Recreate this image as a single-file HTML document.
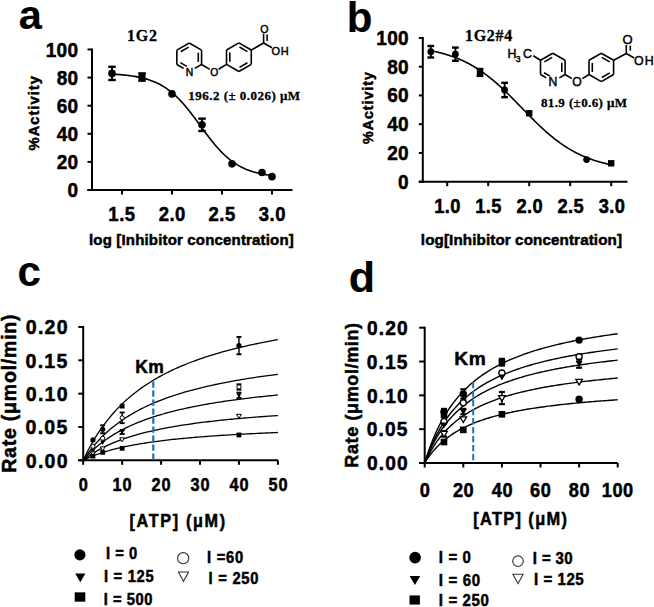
<!DOCTYPE html>
<html><head><meta charset="utf-8"><style>
html,body{margin:0;padding:0;background:#fff;}
svg{display:block;}
</style></head><body>
<svg width="654" height="607" viewBox="0 0 654 607">
<rect width="654" height="607" fill="#fff"/>
<text x="18.65" y="28.90" style="font-family:'Liberation Sans';font-weight:bold;font-size:41.50px;letter-spacing:0.00px" fill="#000" stroke="#000" stroke-width="0.15" >a</text>
<text x="346.85" y="31.90" style="font-family:'Liberation Sans';font-weight:bold;font-size:42.00px;letter-spacing:0.00px" fill="#000" stroke="#000" stroke-width="0.15" >b</text>
<text x="17.60" y="286.40" style="font-family:'Liberation Sans';font-weight:bold;font-size:42.00px;letter-spacing:0.00px" fill="#000" stroke="#000" stroke-width="0.15" >c</text>
<text x="348.65" y="292.40" style="font-family:'Liberation Sans';font-weight:bold;font-size:43.00px;letter-spacing:0.00px" fill="#000" stroke="#000" stroke-width="0.15" >d</text>
<line x1="92.00" y1="48.50" x2="92.00" y2="191.00" stroke="#000" stroke-width="2" />
<line x1="87.50" y1="190.00" x2="292.50" y2="190.00" stroke="#000" stroke-width="2" />
<line x1="87.50" y1="190.00" x2="92.00" y2="190.00" stroke="#000" stroke-width="2" />
<text transform="translate(67.39,197.04) scale(0.935,1)" style="font-family:'Liberation Sans';font-weight:bold;font-size:20.33px;letter-spacing:0.32px" fill="#000" stroke="#000" stroke-width="0.5" >0</text>
<line x1="87.50" y1="161.90" x2="92.00" y2="161.90" stroke="#000" stroke-width="2" />
<text transform="translate(56.64,168.94) scale(0.935,1)" style="font-family:'Liberation Sans';font-weight:bold;font-size:20.33px;letter-spacing:0.32px" fill="#000" stroke="#000" stroke-width="0.5" >20</text>
<line x1="87.50" y1="133.80" x2="92.00" y2="133.80" stroke="#000" stroke-width="2" />
<text transform="translate(56.64,140.84) scale(0.935,1)" style="font-family:'Liberation Sans';font-weight:bold;font-size:20.33px;letter-spacing:0.32px" fill="#000" stroke="#000" stroke-width="0.5" >40</text>
<line x1="87.50" y1="105.70" x2="92.00" y2="105.70" stroke="#000" stroke-width="2" />
<text transform="translate(56.64,112.74) scale(0.935,1)" style="font-family:'Liberation Sans';font-weight:bold;font-size:20.33px;letter-spacing:0.32px" fill="#000" stroke="#000" stroke-width="0.5" >60</text>
<line x1="87.50" y1="77.60" x2="92.00" y2="77.60" stroke="#000" stroke-width="2" />
<text transform="translate(56.64,84.64) scale(0.935,1)" style="font-family:'Liberation Sans';font-weight:bold;font-size:20.33px;letter-spacing:0.32px" fill="#000" stroke="#000" stroke-width="0.5" >80</text>
<line x1="87.50" y1="49.50" x2="92.00" y2="49.50" stroke="#000" stroke-width="2" />
<text transform="translate(45.66,56.54) scale(0.935,1)" style="font-family:'Liberation Sans';font-weight:bold;font-size:20.33px;letter-spacing:0.32px" fill="#000" stroke="#000" stroke-width="0.5" >100</text>
<line x1="122.00" y1="190.00" x2="122.00" y2="194.50" stroke="#000" stroke-width="2" />
<text transform="translate(108.33,221.30) scale(0.935,1)" style="font-family:'Liberation Sans';font-weight:bold;font-size:19.80px;letter-spacing:0.54px" fill="#000" stroke="#000" stroke-width="0.5" >1.5</text>
<line x1="172.00" y1="190.00" x2="172.00" y2="194.50" stroke="#000" stroke-width="2" />
<text transform="translate(158.68,221.30) scale(0.935,1)" style="font-family:'Liberation Sans';font-weight:bold;font-size:19.80px;letter-spacing:0.54px" fill="#000" stroke="#000" stroke-width="0.5" >2.0</text>
<line x1="222.00" y1="190.00" x2="222.00" y2="194.50" stroke="#000" stroke-width="2" />
<text transform="translate(208.57,221.30) scale(0.935,1)" style="font-family:'Liberation Sans';font-weight:bold;font-size:19.80px;letter-spacing:0.54px" fill="#000" stroke="#000" stroke-width="0.5" >2.5</text>
<line x1="272.00" y1="190.00" x2="272.00" y2="194.50" stroke="#000" stroke-width="2" />
<text transform="translate(258.80,221.30) scale(0.935,1)" style="font-family:'Liberation Sans';font-weight:bold;font-size:19.80px;letter-spacing:0.54px" fill="#000" stroke="#000" stroke-width="0.5" >3.0</text>
<text x="89.00" y="245.00" style="font-family:'Liberation Sans';font-weight:bold;font-size:15.00px;letter-spacing:0.17px" fill="#000" stroke="#000" stroke-width="0.5" >log [Inhibitor concentration]</text>
<text transform="translate(39.20,150.45) rotate(-90)" x="0" y="0" style="font-family:'Liberation Sans';font-weight:bold;font-size:14.70px;letter-spacing:1.02px" stroke="#000" stroke-width="0.5">%Activity</text>
<text x="127.05" y="40.50" style="font-family:'Liberation Serif';font-weight:bold;font-size:16.00px;letter-spacing:0.80px" fill="#000" stroke="#000" stroke-width="0.3" >1G2</text>
<text x="188.30" y="100.20" style="font-family:'Liberation Serif';font-weight:bold;font-size:13.00px;letter-spacing:0.48px" fill="#000" stroke="#000" stroke-width="0.3" >196.2 (± 0.026) μM</text>
<path d="M112.00,74.14 L113.33,74.21 L114.67,74.29 L116.00,74.37 L117.33,74.46 L118.67,74.56 L120.00,74.66 L121.33,74.77 L122.67,74.89 L124.00,75.02 L125.33,75.15 L126.67,75.30 L128.00,75.45 L129.33,75.62 L130.67,75.80 L132.00,75.99 L133.33,76.19 L134.67,76.40 L136.00,76.63 L137.33,76.88 L138.67,77.14 L140.00,77.42 L141.33,77.72 L142.67,78.04 L144.00,78.38 L145.33,78.74 L146.67,79.12 L148.00,79.53 L149.33,79.96 L150.67,80.42 L152.00,80.91 L153.33,81.43 L154.67,81.98 L156.00,82.56 L157.33,83.18 L158.67,83.83 L160.00,84.52 L161.33,85.25 L162.67,86.02 L164.00,86.83 L165.33,87.69 L166.67,88.58 L168.00,89.53 L169.33,90.51 L170.67,91.55 L172.00,92.63 L173.33,93.77 L174.67,94.95 L176.00,96.18 L177.33,97.46 L178.67,98.79 L180.00,100.16 L181.33,101.59 L182.67,103.05 L184.00,104.57 L185.33,106.13 L186.67,107.72 L188.00,109.36 L189.33,111.03 L190.67,112.73 L192.00,114.47 L193.33,116.22 L194.67,118.01 L196.00,119.80 L197.33,121.62 L198.67,123.44 L200.00,125.26 L201.33,127.09 L202.67,128.92 L204.00,130.73 L205.33,132.53 L206.67,134.32 L208.00,136.09 L209.33,137.83 L210.67,139.54 L212.00,141.22 L213.33,142.87 L214.67,144.48 L216.00,146.05 L217.33,147.57 L218.67,149.06 L220.00,150.49 L221.33,151.88 L222.67,153.23 L224.00,154.52 L225.33,155.76 L226.67,156.96 L228.00,158.11 L229.33,159.21 L230.67,160.26 L232.00,161.26 L233.33,162.22 L234.67,163.13 L236.00,163.99 L237.33,164.82 L238.67,165.60 L240.00,166.34 L241.33,167.04 L242.67,167.71 L244.00,168.33 L245.33,168.93 L246.67,169.49 L248.00,170.01 L249.33,170.51 L250.67,170.98 L252.00,171.42 L253.33,171.84 L254.67,172.23 L256.00,172.60 L257.33,172.94 L258.67,173.26 L260.00,173.57 L261.33,173.85 L262.67,174.12 L264.00,174.37 L265.33,174.61 L266.67,174.83 L268.00,175.03 L269.33,175.22 L270.67,175.41 L272.00,175.57" stroke="#000" stroke-width="1.6" fill="none" />
<line x1="112.00" y1="66.78" x2="112.00" y2="79.99" stroke="#000" stroke-width="1.92" />
<line x1="108.25" y1="66.78" x2="115.75" y2="66.78" stroke="#000" stroke-width="2.4" />
<line x1="108.25" y1="79.99" x2="115.75" y2="79.99" stroke="#000" stroke-width="2.4" />
<circle cx="112.00" cy="73.38" r="3.80" fill="#000"/>
<line x1="142.00" y1="73.38" x2="142.00" y2="80.69" stroke="#000" stroke-width="1.92" />
<line x1="138.25" y1="73.38" x2="145.75" y2="73.38" stroke="#000" stroke-width="2.4" />
<line x1="138.25" y1="80.69" x2="145.75" y2="80.69" stroke="#000" stroke-width="2.4" />
<rect x="138.50" y="73.54" width="7.00" height="7.00" fill="#000"/>
<circle cx="172.00" cy="93.90" r="3.80" fill="#000"/>
<line x1="202.00" y1="118.63" x2="202.00" y2="130.99" stroke="#000" stroke-width="1.92" />
<line x1="198.25" y1="118.63" x2="205.75" y2="118.63" stroke="#000" stroke-width="2.4" />
<line x1="198.25" y1="130.99" x2="205.75" y2="130.99" stroke="#000" stroke-width="2.4" />
<circle cx="202.00" cy="124.81" r="3.80" fill="#000"/>
<circle cx="232.00" cy="163.87" r="3.80" fill="#000"/>
<circle cx="262.00" cy="172.44" r="3.80" fill="#000"/>
<circle cx="272.00" cy="176.65" r="3.80" fill="#000"/>
<line x1="422.80" y1="36.95" x2="422.80" y2="182.70" stroke="#000" stroke-width="2" />
<line x1="418.80" y1="181.70" x2="627.50" y2="181.70" stroke="#000" stroke-width="2" />
<line x1="418.80" y1="181.70" x2="422.80" y2="181.70" stroke="#000" stroke-width="2" />
<text transform="translate(397.99,188.64) scale(0.935,1)" style="font-family:'Liberation Sans';font-weight:bold;font-size:20.33px;letter-spacing:0.32px" fill="#000" stroke="#000" stroke-width="0.5" >0</text>
<line x1="418.80" y1="152.95" x2="422.80" y2="152.95" stroke="#000" stroke-width="2" />
<text transform="translate(387.24,159.89) scale(0.935,1)" style="font-family:'Liberation Sans';font-weight:bold;font-size:20.33px;letter-spacing:0.32px" fill="#000" stroke="#000" stroke-width="0.5" >20</text>
<line x1="418.80" y1="124.20" x2="422.80" y2="124.20" stroke="#000" stroke-width="2" />
<text transform="translate(387.24,131.14) scale(0.935,1)" style="font-family:'Liberation Sans';font-weight:bold;font-size:20.33px;letter-spacing:0.32px" fill="#000" stroke="#000" stroke-width="0.5" >40</text>
<line x1="418.80" y1="95.45" x2="422.80" y2="95.45" stroke="#000" stroke-width="2" />
<text transform="translate(387.24,102.39) scale(0.935,1)" style="font-family:'Liberation Sans';font-weight:bold;font-size:20.33px;letter-spacing:0.32px" fill="#000" stroke="#000" stroke-width="0.5" >60</text>
<line x1="418.80" y1="66.70" x2="422.80" y2="66.70" stroke="#000" stroke-width="2" />
<text transform="translate(387.24,73.64) scale(0.935,1)" style="font-family:'Liberation Sans';font-weight:bold;font-size:20.33px;letter-spacing:0.32px" fill="#000" stroke="#000" stroke-width="0.5" >80</text>
<line x1="418.80" y1="37.95" x2="422.80" y2="37.95" stroke="#000" stroke-width="2" />
<text transform="translate(376.26,44.89) scale(0.935,1)" style="font-family:'Liberation Sans';font-weight:bold;font-size:20.33px;letter-spacing:0.32px" fill="#000" stroke="#000" stroke-width="0.5" >100</text>
<line x1="447.20" y1="181.70" x2="447.20" y2="186.20" stroke="#000" stroke-width="2" />
<text transform="translate(434.30,213.00) scale(0.935,1)" style="font-family:'Liberation Sans';font-weight:bold;font-size:19.58px;letter-spacing:0.43px" fill="#000" stroke="#000" stroke-width="0.5" >1.0</text>
<line x1="488.20" y1="181.70" x2="488.20" y2="186.20" stroke="#000" stroke-width="2" />
<text transform="translate(475.18,213.00) scale(0.935,1)" style="font-family:'Liberation Sans';font-weight:bold;font-size:19.58px;letter-spacing:0.43px" fill="#000" stroke="#000" stroke-width="0.5" >1.5</text>
<line x1="529.20" y1="181.70" x2="529.20" y2="186.20" stroke="#000" stroke-width="2" />
<text transform="translate(516.53,213.00) scale(0.935,1)" style="font-family:'Liberation Sans';font-weight:bold;font-size:19.58px;letter-spacing:0.43px" fill="#000" stroke="#000" stroke-width="0.5" >2.0</text>
<line x1="570.20" y1="181.70" x2="570.20" y2="186.20" stroke="#000" stroke-width="2" />
<text transform="translate(557.42,213.00) scale(0.935,1)" style="font-family:'Liberation Sans';font-weight:bold;font-size:19.58px;letter-spacing:0.43px" fill="#000" stroke="#000" stroke-width="0.5" >2.5</text>
<line x1="611.20" y1="181.70" x2="611.20" y2="186.20" stroke="#000" stroke-width="2" />
<text transform="translate(598.65,213.00) scale(0.935,1)" style="font-family:'Liberation Sans';font-weight:bold;font-size:19.58px;letter-spacing:0.43px" fill="#000" stroke="#000" stroke-width="0.5" >3.0</text>
<text x="420.80" y="245.40" style="font-family:'Liberation Sans';font-weight:bold;font-size:15.20px;letter-spacing:0.11px" fill="#000" stroke="#000" stroke-width="0.5" >log[Inhibitor concentration]</text>
<text transform="translate(373.10,143.95) rotate(-90)" x="0" y="0" style="font-family:'Liberation Sans';font-weight:bold;font-size:14.30px;letter-spacing:0.94px" stroke="#000" stroke-width="0.5">%Activity</text>
<text x="464.95" y="40.70" style="font-family:'Liberation Serif';font-weight:bold;font-size:16.00px;letter-spacing:0.73px" fill="#000" stroke="#000" stroke-width="0.3" >1G2#4</text>
<text x="540.90" y="106.70" style="font-family:'Liberation Serif';font-weight:bold;font-size:13.00px;letter-spacing:0.40px" fill="#000" stroke="#000" stroke-width="0.3" >81.9 (±0.6) μM</text>
<path d="M430.80,50.72 L432.09,50.98 L433.38,51.24 L434.67,51.51 L435.95,51.80 L437.24,52.09 L438.53,52.40 L439.82,52.71 L441.11,53.04 L442.40,53.38 L443.69,53.74 L444.97,54.10 L446.26,54.48 L447.55,54.87 L448.84,55.28 L450.13,55.70 L451.42,56.14 L452.71,56.59 L453.99,57.06 L455.28,57.54 L456.57,58.04 L457.86,58.55 L459.15,59.09 L460.44,59.64 L461.73,60.21 L463.01,60.79 L464.30,61.40 L465.59,62.02 L466.88,62.67 L468.17,63.33 L469.46,64.01 L470.75,64.71 L472.03,65.44 L473.32,66.18 L474.61,66.94 L475.90,67.73 L477.19,68.54 L478.48,69.36 L479.77,70.21 L481.05,71.08 L482.34,71.98 L483.63,72.89 L484.92,73.82 L486.21,74.78 L487.50,75.76 L488.79,76.76 L490.07,77.78 L491.36,78.82 L492.65,79.88 L493.94,80.96 L495.23,82.05 L496.52,83.17 L497.81,84.31 L499.09,85.46 L500.38,86.64 L501.67,87.82 L502.96,89.03 L504.25,90.25 L505.54,91.48 L506.83,92.73 L508.11,93.99 L509.40,95.26 L510.69,96.54 L511.98,97.83 L513.27,99.13 L514.56,100.44 L515.85,101.75 L517.13,103.07 L518.42,104.40 L519.71,105.72 L521.00,107.05 L522.29,108.38 L523.58,109.71 L524.87,111.04 L526.15,112.36 L527.44,113.68 L528.73,115.00 L530.02,116.31 L531.31,117.61 L532.60,118.91 L533.89,120.19 L535.17,121.46 L536.46,122.73 L537.75,123.98 L539.04,125.22 L540.33,126.44 L541.62,127.65 L542.91,128.84 L544.19,130.02 L545.48,131.18 L546.77,132.32 L548.06,133.44 L549.35,134.54 L550.64,135.63 L551.93,136.69 L553.21,137.74 L554.50,138.76 L555.79,139.77 L557.08,140.75 L558.37,141.71 L559.66,142.65 L560.95,143.57 L562.23,144.47 L563.52,145.35 L564.81,146.20 L566.10,147.04 L567.39,147.85 L568.68,148.64 L569.97,149.41 L571.25,150.16 L572.54,150.89 L573.83,151.60 L575.12,152.29 L576.41,152.95 L577.70,153.60 L578.99,154.23 L580.27,154.84 L581.56,155.43 L582.85,156.01 L584.14,156.56 L585.43,157.10 L586.72,157.62 L588.01,158.12 L589.29,158.61 L590.58,159.08 L591.87,159.54 L593.16,159.98 L594.45,160.40 L595.74,160.81 L597.03,161.21 L598.31,161.59 L599.60,161.96 L600.89,162.32 L602.18,162.66 L603.47,162.99 L604.76,163.31 L606.05,163.62 L607.33,163.92 L608.62,164.21 L609.91,164.48 L611.20,164.75" stroke="#000" stroke-width="1.6" fill="none" />
<line x1="430.80" y1="46.00" x2="430.80" y2="57.50" stroke="#000" stroke-width="1.92" />
<line x1="427.45" y1="46.00" x2="434.15" y2="46.00" stroke="#000" stroke-width="2.4" />
<line x1="427.45" y1="57.50" x2="434.15" y2="57.50" stroke="#000" stroke-width="2.4" />
<circle cx="430.80" cy="51.75" r="3.40" fill="#000"/>
<line x1="455.40" y1="47.58" x2="455.40" y2="60.81" stroke="#000" stroke-width="1.92" />
<line x1="452.05" y1="47.58" x2="458.75" y2="47.58" stroke="#000" stroke-width="2.4" />
<line x1="452.05" y1="60.81" x2="458.75" y2="60.81" stroke="#000" stroke-width="2.4" />
<circle cx="455.40" cy="54.19" r="3.40" fill="#000"/>
<line x1="480.00" y1="69.00" x2="480.00" y2="75.90" stroke="#000" stroke-width="1.92" />
<line x1="476.65" y1="69.00" x2="483.35" y2="69.00" stroke="#000" stroke-width="2.4" />
<line x1="476.65" y1="75.90" x2="483.35" y2="75.90" stroke="#000" stroke-width="2.4" />
<rect x="476.80" y="69.25" width="6.40" height="6.40" fill="#000"/>
<line x1="504.60" y1="82.80" x2="504.60" y2="97.17" stroke="#000" stroke-width="1.92" />
<line x1="501.25" y1="82.80" x2="507.95" y2="82.80" stroke="#000" stroke-width="2.4" />
<line x1="501.25" y1="97.17" x2="507.95" y2="97.17" stroke="#000" stroke-width="2.4" />
<circle cx="504.60" cy="89.99" r="3.40" fill="#000"/>
<rect x="526.00" y="110.07" width="6.40" height="6.40" fill="#000"/>
<circle cx="586.60" cy="159.56" r="3.40" fill="#000"/>
<rect x="608.00" y="160.10" width="6.40" height="6.40" fill="#000"/>
<line x1="83.20" y1="325.96" x2="83.20" y2="461.30" stroke="#000" stroke-width="2" />
<line x1="78.30" y1="460.30" x2="278.00" y2="460.30" stroke="#000" stroke-width="2" />
<line x1="78.30" y1="460.30" x2="83.20" y2="460.30" stroke="#000" stroke-width="2" />
<text transform="translate(25.81,467.74) scale(0.935,1)" style="font-family:'Liberation Sans';font-weight:bold;font-size:20.97px;letter-spacing:1.28px" fill="#000" stroke="#000" stroke-width="0.5" >0.00</text>
<line x1="78.30" y1="426.97" x2="83.20" y2="426.97" stroke="#000" stroke-width="2" />
<text transform="translate(25.58,434.41) scale(0.935,1)" style="font-family:'Liberation Sans';font-weight:bold;font-size:20.97px;letter-spacing:1.28px" fill="#000" stroke="#000" stroke-width="0.5" >0.05</text>
<line x1="78.30" y1="393.63" x2="83.20" y2="393.63" stroke="#000" stroke-width="2" />
<text transform="translate(25.81,401.07) scale(0.935,1)" style="font-family:'Liberation Sans';font-weight:bold;font-size:20.97px;letter-spacing:1.28px" fill="#000" stroke="#000" stroke-width="0.5" >0.10</text>
<line x1="78.30" y1="360.30" x2="83.20" y2="360.30" stroke="#000" stroke-width="2" />
<text transform="translate(25.58,367.74) scale(0.935,1)" style="font-family:'Liberation Sans';font-weight:bold;font-size:20.97px;letter-spacing:1.28px" fill="#000" stroke="#000" stroke-width="0.5" >0.15</text>
<line x1="78.30" y1="326.96" x2="83.20" y2="326.96" stroke="#000" stroke-width="2" />
<text transform="translate(25.81,334.40) scale(0.935,1)" style="font-family:'Liberation Sans';font-weight:bold;font-size:20.97px;letter-spacing:1.28px" fill="#000" stroke="#000" stroke-width="0.5" >0.20</text>
<line x1="83.20" y1="460.30" x2="83.20" y2="464.80" stroke="#000" stroke-width="2" />
<text transform="translate(78.64,490.60) scale(0.935,1)" style="font-family:'Liberation Sans';font-weight:bold;font-size:17.44px;letter-spacing:0.96px" fill="#000" stroke="#000" stroke-width="0.5" >0</text>
<line x1="122.14" y1="460.30" x2="122.14" y2="464.80" stroke="#000" stroke-width="2" />
<text transform="translate(112.44,490.60) scale(0.935,1)" style="font-family:'Liberation Sans';font-weight:bold;font-size:17.44px;letter-spacing:0.96px" fill="#000" stroke="#000" stroke-width="0.5" >10</text>
<line x1="161.08" y1="460.30" x2="161.08" y2="464.80" stroke="#000" stroke-width="2" />
<text transform="translate(151.62,490.60) scale(0.935,1)" style="font-family:'Liberation Sans';font-weight:bold;font-size:17.44px;letter-spacing:0.96px" fill="#000" stroke="#000" stroke-width="0.5" >20</text>
<line x1="200.02" y1="460.30" x2="200.02" y2="464.80" stroke="#000" stroke-width="2" />
<text transform="translate(190.56,490.60) scale(0.935,1)" style="font-family:'Liberation Sans';font-weight:bold;font-size:17.44px;letter-spacing:0.96px" fill="#000" stroke="#000" stroke-width="0.5" >30</text>
<line x1="238.96" y1="460.30" x2="238.96" y2="464.80" stroke="#000" stroke-width="2" />
<text transform="translate(229.61,490.60) scale(0.935,1)" style="font-family:'Liberation Sans';font-weight:bold;font-size:17.44px;letter-spacing:0.96px" fill="#000" stroke="#000" stroke-width="0.5" >40</text>
<line x1="277.90" y1="460.30" x2="277.90" y2="464.80" stroke="#000" stroke-width="2" />
<text transform="translate(268.44,490.60) scale(0.935,1)" style="font-family:'Liberation Sans';font-weight:bold;font-size:17.44px;letter-spacing:0.96px" fill="#000" stroke="#000" stroke-width="0.5" >50</text>
<text transform="translate(129.57,527.10) scale(0.926,1)" style="font-family:'Liberation Sans';font-weight:bold;font-size:17.50px;letter-spacing:1.79px" fill="#000" stroke="#000" stroke-width="0.5" >[ATP] (μM)</text>
<text transform="translate(15.80,472.75) rotate(-90)" x="0" y="0" style="font-family:'Liberation Sans';font-weight:bold;font-size:19.50px;letter-spacing:0.78px" stroke="#000" stroke-width="0.5">Rate (μmol/min)</text>
<path d="M83.20,460.30 L85.15,456.18 L87.09,452.26 L89.04,448.51 L90.99,444.94 L92.94,441.53 L94.88,438.26 L96.83,435.14 L98.78,432.14 L100.72,429.27 L102.67,426.51 L104.62,423.86 L106.56,421.31 L108.51,418.86 L110.46,416.50 L112.41,414.22 L114.35,412.03 L116.30,409.91 L118.25,407.87 L120.19,405.90 L122.14,403.99 L124.09,402.14 L126.03,400.35 L127.98,398.62 L129.93,396.95 L131.88,395.32 L133.82,393.75 L135.77,392.22 L137.72,390.74 L139.66,389.30 L141.61,387.90 L143.56,386.54 L145.50,385.21 L147.45,383.93 L149.40,382.68 L151.34,381.46 L153.29,380.27 L155.24,379.12 L157.19,378.00 L159.13,376.90 L161.08,375.83 L163.03,374.79 L164.97,373.77 L166.92,372.78 L168.87,371.81 L170.81,370.86 L172.76,369.94 L174.71,369.03 L176.66,368.15 L178.60,367.29 L180.55,366.44 L182.50,365.62 L184.44,364.81 L186.39,364.02 L188.34,363.25 L190.29,362.49 L192.23,361.75 L194.18,361.02 L196.13,360.31 L198.07,359.62 L200.02,358.93 L201.97,358.27 L203.91,357.61 L205.86,356.97 L207.81,356.34 L209.75,355.72 L211.70,355.11 L213.65,354.51 L215.60,353.93 L217.54,353.36 L219.49,352.79 L221.44,352.24 L223.38,351.69 L225.33,351.16 L227.28,350.64 L229.23,350.12 L231.17,349.61 L233.12,349.12 L235.07,348.63 L237.01,348.15 L238.96,347.67 L240.91,347.21 L242.85,346.75 L244.80,346.30 L246.75,345.86 L248.69,345.42 L250.64,344.99 L252.59,344.57 L254.54,344.15 L256.48,343.74 L258.43,343.34 L260.38,342.94 L262.32,342.55 L264.27,342.17 L266.22,341.79 L268.17,341.42 L270.11,341.05 L272.06,340.68 L274.01,340.33 L275.95,339.97 L277.90,339.63" stroke="#000" stroke-width="1.3" fill="none" />
<path d="M83.20,460.30 L85.15,457.36 L87.09,454.57 L89.04,451.90 L90.99,449.35 L92.94,446.92 L94.88,444.59 L96.83,442.37 L98.78,440.23 L100.72,438.18 L102.67,436.22 L104.62,434.33 L106.56,432.51 L108.51,430.77 L110.46,429.08 L112.41,427.46 L114.35,425.90 L116.30,424.39 L118.25,422.93 L120.19,421.53 L122.14,420.16 L124.09,418.85 L126.03,417.58 L127.98,416.34 L129.93,415.15 L131.88,413.99 L133.82,412.87 L135.77,411.78 L137.72,410.72 L139.66,409.69 L141.61,408.70 L143.56,407.73 L145.50,406.79 L147.45,405.87 L149.40,404.98 L151.34,404.11 L153.29,403.27 L155.24,402.44 L157.19,401.64 L159.13,400.86 L161.08,400.10 L163.03,399.35 L164.97,398.63 L166.92,397.92 L168.87,397.23 L170.81,396.56 L172.76,395.90 L174.71,395.25 L176.66,394.62 L178.60,394.01 L180.55,393.41 L182.50,392.82 L184.44,392.24 L186.39,391.68 L188.34,391.13 L190.29,390.59 L192.23,390.06 L194.18,389.55 L196.13,389.04 L198.07,388.54 L200.02,388.06 L201.97,387.58 L203.91,387.11 L205.86,386.65 L207.81,386.20 L209.75,385.76 L211.70,385.33 L213.65,384.91 L215.60,384.49 L217.54,384.08 L219.49,383.68 L221.44,383.28 L223.38,382.90 L225.33,382.52 L227.28,382.14 L229.23,381.77 L231.17,381.41 L233.12,381.06 L235.07,380.71 L237.01,380.37 L238.96,380.03 L240.91,379.70 L242.85,379.37 L244.80,379.05 L246.75,378.73 L248.69,378.42 L250.64,378.12 L252.59,377.82 L254.54,377.52 L256.48,377.23 L258.43,376.94 L260.38,376.66 L262.32,376.38 L264.27,376.11 L266.22,375.84 L268.17,375.57 L270.11,375.31 L272.06,375.05 L274.01,374.79 L275.95,374.54 L277.90,374.30" stroke="#000" stroke-width="1.3" fill="none" />
<path d="M83.20,460.30 L85.15,458.07 L87.09,455.94 L89.04,453.92 L90.99,451.98 L92.94,450.14 L94.88,448.37 L96.83,446.68 L98.78,445.05 L100.72,443.50 L102.67,442.01 L104.62,440.57 L106.56,439.19 L108.51,437.86 L110.46,436.59 L112.41,435.35 L114.35,434.17 L116.30,433.02 L118.25,431.91 L120.19,430.84 L122.14,429.81 L124.09,428.81 L126.03,427.84 L127.98,426.91 L129.93,426.00 L131.88,425.12 L133.82,424.27 L135.77,423.44 L137.72,422.64 L139.66,421.86 L141.61,421.10 L143.56,420.36 L145.50,419.65 L147.45,418.95 L149.40,418.27 L151.34,417.61 L153.29,416.97 L155.24,416.35 L157.19,415.74 L159.13,415.14 L161.08,414.56 L163.03,414.00 L164.97,413.45 L166.92,412.91 L168.87,412.39 L170.81,411.87 L172.76,411.37 L174.71,410.88 L176.66,410.41 L178.60,409.94 L180.55,409.48 L182.50,409.04 L184.44,408.60 L186.39,408.17 L188.34,407.75 L190.29,407.34 L192.23,406.94 L194.18,406.55 L196.13,406.16 L198.07,405.79 L200.02,405.42 L201.97,405.05 L203.91,404.70 L205.86,404.35 L207.81,404.01 L209.75,403.67 L211.70,403.35 L213.65,403.02 L215.60,402.71 L217.54,402.40 L219.49,402.09 L221.44,401.79 L223.38,401.50 L225.33,401.21 L227.28,400.92 L229.23,400.64 L231.17,400.37 L233.12,400.10 L235.07,399.84 L237.01,399.58 L238.96,399.32 L240.91,399.07 L242.85,398.82 L244.80,398.58 L246.75,398.34 L248.69,398.10 L250.64,397.87 L252.59,397.64 L254.54,397.41 L256.48,397.19 L258.43,396.97 L260.38,396.76 L262.32,396.55 L264.27,396.34 L266.22,396.13 L268.17,395.93 L270.11,395.73 L272.06,395.54 L274.01,395.34 L275.95,395.15 L277.90,394.96" stroke="#000" stroke-width="1.3" fill="none" />
<path d="M83.20,460.30 L85.15,458.77 L87.09,457.32 L89.04,455.93 L90.99,454.60 L92.94,453.34 L94.88,452.13 L96.83,450.97 L98.78,449.86 L100.72,448.79 L102.67,447.77 L104.62,446.78 L106.56,445.84 L108.51,444.93 L110.46,444.05 L112.41,443.21 L114.35,442.39 L116.30,441.61 L118.25,440.85 L120.19,440.12 L122.14,439.41 L124.09,438.73 L126.03,438.06 L127.98,437.42 L129.93,436.80 L131.88,436.20 L133.82,435.61 L135.77,435.05 L137.72,434.49 L139.66,433.96 L141.61,433.44 L143.56,432.94 L145.50,432.45 L147.45,431.97 L149.40,431.51 L151.34,431.05 L153.29,430.61 L155.24,430.19 L157.19,429.77 L159.13,429.36 L161.08,428.97 L163.03,428.58 L164.97,428.20 L166.92,427.83 L168.87,427.47 L170.81,427.12 L172.76,426.78 L174.71,426.44 L176.66,426.12 L178.60,425.80 L180.55,425.48 L182.50,425.18 L184.44,424.88 L186.39,424.58 L188.34,424.30 L190.29,424.02 L192.23,423.74 L194.18,423.47 L196.13,423.21 L198.07,422.95 L200.02,422.70 L201.97,422.45 L203.91,422.21 L205.86,421.97 L207.81,421.73 L209.75,421.50 L211.70,421.28 L213.65,421.06 L215.60,420.84 L217.54,420.63 L219.49,420.42 L221.44,420.21 L223.38,420.01 L225.33,419.81 L227.28,419.62 L229.23,419.43 L231.17,419.24 L233.12,419.06 L235.07,418.87 L237.01,418.70 L238.96,418.52 L240.91,418.35 L242.85,418.18 L244.80,418.01 L246.75,417.85 L248.69,417.68 L250.64,417.53 L252.59,417.37 L254.54,417.21 L256.48,417.06 L258.43,416.91 L260.38,416.77 L262.32,416.62 L264.27,416.48 L266.22,416.34 L268.17,416.20 L270.11,416.06 L272.06,415.93 L274.01,415.80 L275.95,415.66 L277.90,415.54" stroke="#000" stroke-width="1.3" fill="none" />
<path d="M83.20,460.30 L85.15,459.35 L87.09,458.45 L89.04,457.58 L90.99,456.76 L92.94,455.97 L94.88,455.22 L96.83,454.50 L98.78,453.81 L100.72,453.15 L102.67,452.51 L104.62,451.90 L106.56,451.31 L108.51,450.75 L110.46,450.21 L112.41,449.68 L114.35,449.18 L116.30,448.69 L118.25,448.22 L120.19,447.76 L122.14,447.32 L124.09,446.90 L126.03,446.48 L127.98,446.09 L129.93,445.70 L131.88,445.32 L133.82,444.96 L135.77,444.61 L137.72,444.27 L139.66,443.94 L141.61,443.61 L143.56,443.30 L145.50,443.00 L147.45,442.70 L149.40,442.41 L151.34,442.13 L153.29,441.86 L155.24,441.59 L157.19,441.33 L159.13,441.08 L161.08,440.83 L163.03,440.59 L164.97,440.36 L166.92,440.13 L168.87,439.91 L170.81,439.69 L172.76,439.47 L174.71,439.27 L176.66,439.06 L178.60,438.86 L180.55,438.67 L182.50,438.48 L184.44,438.29 L186.39,438.11 L188.34,437.93 L190.29,437.76 L192.23,437.59 L194.18,437.42 L196.13,437.26 L198.07,437.10 L200.02,436.94 L201.97,436.78 L203.91,436.63 L205.86,436.49 L207.81,436.34 L209.75,436.20 L211.70,436.06 L213.65,435.92 L215.60,435.79 L217.54,435.65 L219.49,435.52 L221.44,435.40 L223.38,435.27 L225.33,435.15 L227.28,435.03 L229.23,434.91 L231.17,434.79 L233.12,434.68 L235.07,434.56 L237.01,434.45 L238.96,434.34 L240.91,434.24 L242.85,434.13 L244.80,434.03 L246.75,433.92 L248.69,433.82 L250.64,433.73 L252.59,433.63 L254.54,433.53 L256.48,433.44 L258.43,433.34 L260.38,433.25 L262.32,433.16 L264.27,433.07 L266.22,432.99 L268.17,432.90 L270.11,432.82 L272.06,432.73 L274.01,432.65 L275.95,432.57 L277.90,432.49" stroke="#000" stroke-width="1.3" fill="none" />
<line x1="153.30" y1="381.50" x2="153.30" y2="460.00" stroke="#1f72b8" stroke-width="2.2" stroke-dasharray="6.3 2.7"/>
<text x="135.15" y="372.60" style="font-family:'Liberation Sans';font-weight:bold;font-size:17.50px;letter-spacing:0.50px" fill="#000" stroke="#000" stroke-width="0.5" >Km</text>
<circle cx="92.94" cy="439.97" r="2.60" fill="#000"/>
<circle cx="92.94" cy="446.30" r="2.10" fill="#fff" stroke="#000" stroke-width="1.0"/>
<path d="M90.42,448.65 L95.45,448.65 L92.94,452.97 Z" fill="#000"/>
<path d="M90.53,451.83 L95.34,451.83 L92.94,455.91 Z" fill="#fff" stroke="#000" stroke-width="1.0" stroke-linejoin="miter"/>
<rect x="90.53" y="453.70" width="4.80" height="4.80" fill="#000"/>
<line x1="102.67" y1="425.30" x2="102.67" y2="433.30" stroke="#000" stroke-width="1.44" />
<line x1="100.17" y1="425.30" x2="105.17" y2="425.30" stroke="#000" stroke-width="1.92" />
<line x1="100.17" y1="433.30" x2="105.17" y2="433.30" stroke="#000" stroke-width="1.92" />
<circle cx="102.67" cy="429.30" r="2.60" fill="#000"/>
<circle cx="102.67" cy="438.30" r="2.10" fill="#fff" stroke="#000" stroke-width="1.0"/>
<path d="M100.15,440.58 L105.19,440.58 L102.67,444.90 Z" fill="#000"/>
<path d="M100.27,446.90 L105.07,446.90 L102.67,450.98 Z" fill="#fff" stroke="#000" stroke-width="1.0" stroke-linejoin="miter"/>
<rect x="100.27" y="449.97" width="4.80" height="4.80" fill="#000"/>
<rect x="119.74" y="403.70" width="4.80" height="4.80" fill="#000"/>
<line x1="122.14" y1="412.50" x2="122.14" y2="423.16" stroke="#000" stroke-width="1.44" />
<line x1="119.64" y1="412.50" x2="124.64" y2="412.50" stroke="#000" stroke-width="1.92" />
<line x1="119.64" y1="423.16" x2="124.64" y2="423.16" stroke="#000" stroke-width="1.92" />
<circle cx="122.14" cy="417.83" r="2.10" fill="#fff" stroke="#000" stroke-width="1.0"/>
<line x1="122.14" y1="429.97" x2="122.14" y2="433.97" stroke="#000" stroke-width="1.44" />
<line x1="119.64" y1="429.97" x2="124.64" y2="429.97" stroke="#000" stroke-width="1.92" />
<line x1="119.64" y1="433.97" x2="124.64" y2="433.97" stroke="#000" stroke-width="1.92" />
<path d="M119.62,430.05 L124.66,430.05 L122.14,434.37 Z" fill="#000"/>
<path d="M119.74,437.83 L124.54,437.83 L122.14,441.91 Z" fill="#fff" stroke="#000" stroke-width="1.0" stroke-linejoin="miter"/>
<rect x="119.74" y="445.90" width="4.80" height="4.80" fill="#000"/>
<line x1="238.96" y1="336.96" x2="238.96" y2="354.29" stroke="#000" stroke-width="1.44" />
<line x1="236.46" y1="336.96" x2="241.46" y2="336.96" stroke="#000" stroke-width="1.92" />
<line x1="236.46" y1="354.29" x2="241.46" y2="354.29" stroke="#000" stroke-width="1.92" />
<circle cx="238.96" cy="345.63" r="2.60" fill="#000"/>
<line x1="238.96" y1="384.30" x2="238.96" y2="389.63" stroke="#000" stroke-width="1.44" />
<line x1="236.46" y1="384.30" x2="241.46" y2="384.30" stroke="#000" stroke-width="1.92" />
<line x1="236.46" y1="389.63" x2="241.46" y2="389.63" stroke="#000" stroke-width="1.92" />
<circle cx="238.96" cy="386.96" r="2.10" fill="#fff" stroke="#000" stroke-width="1.0"/>
<line x1="238.96" y1="392.63" x2="238.96" y2="397.96" stroke="#000" stroke-width="1.44" />
<line x1="236.46" y1="392.63" x2="241.46" y2="392.63" stroke="#000" stroke-width="1.92" />
<line x1="236.46" y1="397.96" x2="241.46" y2="397.96" stroke="#000" stroke-width="1.92" />
<path d="M236.44,393.38 L241.48,393.38 L238.96,397.70 Z" fill="#000"/>
<path d="M236.56,414.30 L241.36,414.30 L238.96,418.38 Z" fill="#fff" stroke="#000" stroke-width="1.0" stroke-linejoin="miter"/>
<rect x="236.56" y="432.57" width="4.80" height="4.80" fill="#000"/>
<line x1="424.70" y1="326.70" x2="424.70" y2="464.00" stroke="#000" stroke-width="2" />
<line x1="419.20" y1="463.00" x2="617.70" y2="463.00" stroke="#000" stroke-width="2" />
<line x1="419.20" y1="463.00" x2="424.70" y2="463.00" stroke="#000" stroke-width="2" />
<text transform="translate(366.98,470.20) scale(0.935,1)" style="font-family:'Liberation Sans';font-weight:bold;font-size:20.54px;letter-spacing:1.18px" fill="#000" stroke="#000" stroke-width="0.5" >0.00</text>
<line x1="419.20" y1="429.18" x2="424.70" y2="429.18" stroke="#000" stroke-width="2" />
<text transform="translate(366.75,436.38) scale(0.935,1)" style="font-family:'Liberation Sans';font-weight:bold;font-size:20.54px;letter-spacing:1.18px" fill="#000" stroke="#000" stroke-width="0.5" >0.05</text>
<line x1="419.20" y1="395.35" x2="424.70" y2="395.35" stroke="#000" stroke-width="2" />
<text transform="translate(366.98,402.55) scale(0.935,1)" style="font-family:'Liberation Sans';font-weight:bold;font-size:20.54px;letter-spacing:1.18px" fill="#000" stroke="#000" stroke-width="0.5" >0.10</text>
<line x1="419.20" y1="361.52" x2="424.70" y2="361.52" stroke="#000" stroke-width="2" />
<text transform="translate(366.75,368.73) scale(0.935,1)" style="font-family:'Liberation Sans';font-weight:bold;font-size:20.54px;letter-spacing:1.18px" fill="#000" stroke="#000" stroke-width="0.5" >0.15</text>
<line x1="419.20" y1="327.70" x2="424.70" y2="327.70" stroke="#000" stroke-width="2" />
<text transform="translate(366.98,334.90) scale(0.935,1)" style="font-family:'Liberation Sans';font-weight:bold;font-size:20.54px;letter-spacing:1.18px" fill="#000" stroke="#000" stroke-width="0.5" >0.20</text>
<line x1="424.70" y1="463.00" x2="424.70" y2="467.50" stroke="#000" stroke-width="2" />
<text transform="translate(419.68,496.70) scale(0.935,1)" style="font-family:'Liberation Sans';font-weight:bold;font-size:19.47px;letter-spacing:0.64px" fill="#000" stroke="#000" stroke-width="0.5" >0</text>
<line x1="463.30" y1="463.00" x2="463.30" y2="467.50" stroke="#000" stroke-width="2" />
<text transform="translate(452.90,496.70) scale(0.935,1)" style="font-family:'Liberation Sans';font-weight:bold;font-size:19.47px;letter-spacing:0.64px" fill="#000" stroke="#000" stroke-width="0.5" >20</text>
<line x1="501.90" y1="463.00" x2="501.90" y2="467.50" stroke="#000" stroke-width="2" />
<text transform="translate(491.74,496.70) scale(0.935,1)" style="font-family:'Liberation Sans';font-weight:bold;font-size:19.47px;letter-spacing:0.64px" fill="#000" stroke="#000" stroke-width="0.5" >40</text>
<line x1="540.50" y1="463.00" x2="540.50" y2="467.50" stroke="#000" stroke-width="2" />
<text transform="translate(530.10,496.70) scale(0.935,1)" style="font-family:'Liberation Sans';font-weight:bold;font-size:19.47px;letter-spacing:0.64px" fill="#000" stroke="#000" stroke-width="0.5" >60</text>
<line x1="579.10" y1="463.00" x2="579.10" y2="467.50" stroke="#000" stroke-width="2" />
<text transform="translate(568.82,496.70) scale(0.935,1)" style="font-family:'Liberation Sans';font-weight:bold;font-size:19.47px;letter-spacing:0.64px" fill="#000" stroke="#000" stroke-width="0.5" >80</text>
<line x1="617.70" y1="463.00" x2="617.70" y2="467.50" stroke="#000" stroke-width="2" />
<text transform="translate(601.70,496.70) scale(0.935,1)" style="font-family:'Liberation Sans';font-weight:bold;font-size:19.47px;letter-spacing:0.64px" fill="#000" stroke="#000" stroke-width="0.5" >100</text>
<text transform="translate(473.17,524.80) scale(0.926,1)" style="font-family:'Liberation Sans';font-weight:bold;font-size:17.71px;letter-spacing:1.47px" fill="#000" stroke="#000" stroke-width="0.5" >[ATP] (μM)</text>
<text transform="translate(357.70,467.65) rotate(-90)" x="0" y="0" style="font-family:'Liberation Sans';font-weight:bold;font-size:18.00px;letter-spacing:0.62px" stroke="#000" stroke-width="0.5">Rate (μmol/min)</text>
<path d="M424.70,463.00 L426.63,456.79 L428.56,451.03 L430.49,445.69 L432.42,440.72 L434.35,436.08 L436.28,431.73 L438.21,427.66 L440.14,423.84 L442.07,420.24 L444.00,416.84 L445.93,413.64 L447.86,410.61 L449.79,407.73 L451.72,405.01 L453.65,402.42 L455.58,399.96 L457.51,397.61 L459.44,395.38 L461.37,393.24 L463.30,391.20 L465.23,389.25 L467.16,387.38 L469.09,385.59 L471.02,383.87 L472.95,382.23 L474.88,380.64 L476.81,379.12 L478.74,377.65 L480.67,376.24 L482.60,374.88 L484.53,373.57 L486.46,372.31 L488.39,371.08 L490.32,369.90 L492.25,368.76 L494.18,367.66 L496.11,366.59 L498.04,365.56 L499.97,364.56 L501.90,363.59 L503.83,362.64 L505.76,361.73 L507.69,360.84 L509.62,359.98 L511.55,359.15 L513.48,358.33 L515.41,357.54 L517.34,356.78 L519.27,356.03 L521.20,355.30 L523.13,354.59 L525.06,353.90 L526.99,353.23 L528.92,352.57 L530.85,351.94 L532.78,351.31 L534.71,350.70 L536.64,350.11 L538.57,349.53 L540.50,348.97 L542.43,348.41 L544.36,347.87 L546.29,347.35 L548.22,346.83 L550.15,346.33 L552.08,345.83 L554.01,345.35 L555.94,344.88 L557.87,344.42 L559.80,343.96 L561.73,343.52 L563.66,343.09 L565.59,342.66 L567.52,342.25 L569.45,341.84 L571.38,341.44 L573.31,341.05 L575.24,340.66 L577.17,340.29 L579.10,339.92 L581.03,339.55 L582.96,339.20 L584.89,338.85 L586.82,338.50 L588.75,338.17 L590.68,337.84 L592.61,337.51 L594.54,337.19 L596.47,336.88 L598.40,336.57 L600.33,336.27 L602.26,335.97 L604.19,335.68 L606.12,335.39 L608.05,335.11 L609.98,334.83 L611.91,334.56 L613.84,334.29 L615.77,334.02 L617.70,333.76" stroke="#000" stroke-width="1.4" fill="none" />
<path d="M424.70,463.00 L426.63,457.52 L428.56,452.44 L430.49,447.72 L432.42,443.33 L434.35,439.23 L436.28,435.40 L438.21,431.80 L440.14,428.43 L442.07,425.25 L444.00,422.26 L445.93,419.43 L447.86,416.75 L449.79,414.21 L451.72,411.81 L453.65,409.52 L455.58,407.35 L457.51,405.28 L459.44,403.30 L461.37,401.42 L463.30,399.62 L465.23,397.90 L467.16,396.25 L469.09,394.67 L471.02,393.15 L472.95,391.70 L474.88,390.30 L476.81,388.95 L478.74,387.66 L480.67,386.42 L482.60,385.21 L484.53,384.06 L486.46,382.94 L488.39,381.86 L490.32,380.82 L492.25,379.81 L494.18,378.84 L496.11,377.90 L498.04,376.98 L499.97,376.10 L501.90,375.24 L503.83,374.41 L505.76,373.61 L507.69,372.82 L509.62,372.06 L511.55,371.32 L513.48,370.61 L515.41,369.91 L517.34,369.23 L519.27,368.57 L521.20,367.93 L523.13,367.30 L525.06,366.69 L526.99,366.10 L528.92,365.52 L530.85,364.96 L532.78,364.41 L534.71,363.87 L536.64,363.35 L538.57,362.84 L540.50,362.34 L542.43,361.85 L544.36,361.37 L546.29,360.91 L548.22,360.45 L550.15,360.01 L552.08,359.57 L554.01,359.15 L555.94,358.73 L557.87,358.32 L559.80,357.92 L561.73,357.53 L563.66,357.15 L565.59,356.77 L567.52,356.41 L569.45,356.05 L571.38,355.69 L573.31,355.35 L575.24,355.01 L577.17,354.67 L579.10,354.35 L581.03,354.03 L582.96,353.71 L584.89,353.40 L586.82,353.10 L588.75,352.80 L590.68,352.51 L592.61,352.23 L594.54,351.94 L596.47,351.67 L598.40,351.40 L600.33,351.13 L602.26,350.87 L604.19,350.61 L606.12,350.35 L608.05,350.10 L609.98,349.86 L611.91,349.62 L613.84,349.38 L615.77,349.15 L617.70,348.92" stroke="#000" stroke-width="1.4" fill="none" />
<path d="M424.70,463.00 L426.63,458.06 L428.56,453.48 L430.49,449.23 L432.42,445.27 L434.35,441.58 L436.28,438.12 L438.21,434.88 L440.14,431.84 L442.07,428.98 L444.00,426.28 L445.93,423.73 L447.86,421.31 L449.79,419.03 L451.72,416.86 L453.65,414.80 L455.58,412.84 L457.51,410.97 L459.44,409.19 L461.37,407.50 L463.30,405.87 L465.23,404.32 L467.16,402.83 L469.09,401.41 L471.02,400.04 L472.95,398.73 L474.88,397.47 L476.81,396.26 L478.74,395.09 L480.67,393.97 L482.60,392.89 L484.53,391.85 L486.46,390.84 L488.39,389.87 L490.32,388.93 L492.25,388.02 L494.18,387.14 L496.11,386.29 L498.04,385.47 L499.97,384.67 L501.90,383.90 L503.83,383.15 L505.76,382.43 L507.69,381.72 L509.62,381.04 L511.55,380.37 L513.48,379.72 L515.41,379.10 L517.34,378.48 L519.27,377.89 L521.20,377.31 L523.13,376.75 L525.06,376.20 L526.99,375.66 L528.92,375.14 L530.85,374.63 L532.78,374.14 L534.71,373.65 L536.64,373.18 L538.57,372.72 L540.50,372.27 L542.43,371.83 L544.36,371.40 L546.29,370.98 L548.22,370.57 L550.15,370.17 L552.08,369.78 L554.01,369.39 L555.94,369.02 L557.87,368.65 L559.80,368.29 L561.73,367.94 L563.66,367.59 L565.59,367.25 L567.52,366.92 L569.45,366.60 L571.38,366.28 L573.31,365.97 L575.24,365.66 L577.17,365.36 L579.10,365.07 L581.03,364.78 L582.96,364.50 L584.89,364.22 L586.82,363.95 L588.75,363.68 L590.68,363.41 L592.61,363.16 L594.54,362.90 L596.47,362.65 L598.40,362.41 L600.33,362.17 L602.26,361.93 L604.19,361.70 L606.12,361.47 L608.05,361.24 L609.98,361.02 L611.91,360.80 L613.84,360.59 L615.77,360.38 L617.70,360.17" stroke="#000" stroke-width="1.4" fill="none" />
<path d="M424.70,463.00 L426.63,458.91 L428.56,455.13 L430.49,451.62 L432.42,448.35 L434.35,445.30 L436.28,442.44 L438.21,439.77 L440.14,437.25 L442.07,434.89 L444.00,432.65 L445.93,430.55 L447.86,428.55 L449.79,426.66 L451.72,424.87 L453.65,423.17 L455.58,421.55 L457.51,420.01 L459.44,418.54 L461.37,417.14 L463.30,415.80 L465.23,414.51 L467.16,413.28 L469.09,412.11 L471.02,410.98 L472.95,409.89 L474.88,408.85 L476.81,407.85 L478.74,406.89 L480.67,405.96 L482.60,405.07 L484.53,404.20 L486.46,403.37 L488.39,402.57 L490.32,401.79 L492.25,401.04 L494.18,400.32 L496.11,399.62 L498.04,398.94 L499.97,398.28 L501.90,397.64 L503.83,397.02 L505.76,396.42 L507.69,395.84 L509.62,395.27 L511.55,394.72 L513.48,394.19 L515.41,393.67 L517.34,393.16 L519.27,392.67 L521.20,392.19 L523.13,391.73 L525.06,391.27 L526.99,390.83 L528.92,390.40 L530.85,389.98 L532.78,389.57 L534.71,389.17 L536.64,388.78 L538.57,388.40 L540.50,388.03 L542.43,387.66 L544.36,387.31 L546.29,386.96 L548.22,386.62 L550.15,386.29 L552.08,385.97 L554.01,385.65 L555.94,385.34 L557.87,385.04 L559.80,384.74 L561.73,384.45 L563.66,384.16 L565.59,383.88 L567.52,383.61 L569.45,383.34 L571.38,383.08 L573.31,382.82 L575.24,382.57 L577.17,382.32 L579.10,382.08 L581.03,381.84 L582.96,381.61 L584.89,381.38 L586.82,381.15 L588.75,380.93 L590.68,380.71 L592.61,380.50 L594.54,380.29 L596.47,380.08 L598.40,379.88 L600.33,379.68 L602.26,379.48 L604.19,379.29 L606.12,379.10 L608.05,378.92 L609.98,378.73 L611.91,378.55 L613.84,378.38 L615.77,378.20 L617.70,378.03" stroke="#000" stroke-width="1.4" fill="none" />
<path d="M424.70,463.00 L426.63,459.96 L428.56,457.15 L430.49,454.53 L432.42,452.10 L434.35,449.83 L436.28,447.71 L438.21,445.72 L440.14,443.84 L442.07,442.08 L444.00,440.42 L445.93,438.86 L447.86,437.37 L449.79,435.97 L451.72,434.64 L453.65,433.37 L455.58,432.16 L457.51,431.02 L459.44,429.92 L461.37,428.88 L463.30,427.88 L465.23,426.93 L467.16,426.01 L469.09,425.14 L471.02,424.30 L472.95,423.49 L474.88,422.72 L476.81,421.97 L478.74,421.26 L480.67,420.57 L482.60,419.90 L484.53,419.26 L486.46,418.64 L488.39,418.04 L490.32,417.47 L492.25,416.91 L494.18,416.37 L496.11,415.85 L498.04,415.34 L499.97,414.85 L501.90,414.38 L503.83,413.91 L505.76,413.47 L507.69,413.03 L509.62,412.61 L511.55,412.20 L513.48,411.81 L515.41,411.42 L517.34,411.04 L519.27,410.68 L521.20,410.32 L523.13,409.98 L525.06,409.64 L526.99,409.31 L528.92,408.99 L530.85,408.68 L532.78,408.37 L534.71,408.07 L536.64,407.78 L538.57,407.50 L540.50,407.22 L542.43,406.95 L544.36,406.69 L546.29,406.43 L548.22,406.18 L550.15,405.93 L552.08,405.69 L554.01,405.46 L555.94,405.23 L557.87,405.00 L559.80,404.78 L561.73,404.56 L563.66,404.35 L565.59,404.14 L567.52,403.94 L569.45,403.74 L571.38,403.54 L573.31,403.35 L575.24,403.16 L577.17,402.98 L579.10,402.80 L581.03,402.62 L582.96,402.45 L584.89,402.28 L586.82,402.11 L588.75,401.94 L590.68,401.78 L592.61,401.62 L594.54,401.47 L596.47,401.31 L598.40,401.16 L600.33,401.01 L602.26,400.87 L604.19,400.73 L606.12,400.58 L608.05,400.45 L609.98,400.31 L611.91,400.18 L613.84,400.04 L615.77,399.92 L617.70,399.79" stroke="#000" stroke-width="1.4" fill="none" />
<line x1="473.20" y1="382.00" x2="473.20" y2="463.00" stroke="#1f72b8" stroke-width="2.0" stroke-dasharray="6.3 2.7"/>
<text x="454.35" y="365.40" style="font-family:'Liberation Sans';font-weight:bold;font-size:19.20px;letter-spacing:0.45px" fill="#000" stroke="#000" stroke-width="0.5" >Km</text>
<line x1="444.00" y1="408.88" x2="444.00" y2="414.29" stroke="#000" stroke-width="1.56" />
<line x1="441.00" y1="408.88" x2="447.00" y2="408.88" stroke="#000" stroke-width="2.16" />
<line x1="441.00" y1="414.29" x2="447.00" y2="414.29" stroke="#000" stroke-width="2.16" />
<circle cx="444.00" cy="411.59" r="3.70" fill="#000"/>
<rect x="440.70" y="411.67" width="6.60" height="6.60" fill="#000"/>
<circle cx="444.00" cy="421.73" r="3.05" fill="#fff" stroke="#000" stroke-width="1.3"/>
<path d="M440.54,422.48 L447.46,422.48 L444.00,428.42 Z" fill="#000"/>
<line x1="444.00" y1="431.20" x2="444.00" y2="436.62" stroke="#000" stroke-width="1.56" />
<line x1="441.00" y1="431.20" x2="447.00" y2="431.20" stroke="#000" stroke-width="2.16" />
<line x1="441.00" y1="436.62" x2="447.00" y2="436.62" stroke="#000" stroke-width="2.16" />
<path d="M440.70,431.44 L447.30,431.44 L444.00,437.05 Z" fill="#fff" stroke="#000" stroke-width="1.3" stroke-linejoin="miter"/>
<rect x="440.70" y="438.73" width="6.60" height="6.60" fill="#000"/>
<line x1="463.30" y1="389.26" x2="463.30" y2="398.73" stroke="#000" stroke-width="1.56" />
<line x1="460.30" y1="389.26" x2="466.30" y2="389.26" stroke="#000" stroke-width="2.16" />
<line x1="460.30" y1="398.73" x2="466.30" y2="398.73" stroke="#000" stroke-width="2.16" />
<circle cx="463.30" cy="394.00" r="3.70" fill="#000"/>
<circle cx="463.30" cy="402.79" r="3.05" fill="#fff" stroke="#000" stroke-width="1.3"/>
<line x1="463.30" y1="408.88" x2="463.30" y2="414.29" stroke="#000" stroke-width="1.56" />
<line x1="460.30" y1="408.88" x2="466.30" y2="408.88" stroke="#000" stroke-width="2.16" />
<line x1="460.30" y1="414.29" x2="466.30" y2="414.29" stroke="#000" stroke-width="2.16" />
<path d="M459.84,408.95 L466.76,408.95 L463.30,414.89 Z" fill="#000"/>
<path d="M460.00,416.89 L466.60,416.89 L463.30,422.50 Z" fill="#fff" stroke="#000" stroke-width="1.3" stroke-linejoin="miter"/>
<rect x="460.00" y="426.55" width="6.60" height="6.60" fill="#000"/>
<line x1="501.90" y1="358.82" x2="501.90" y2="365.58" stroke="#000" stroke-width="1.56" />
<line x1="498.90" y1="358.82" x2="504.90" y2="358.82" stroke="#000" stroke-width="2.16" />
<line x1="498.90" y1="365.58" x2="504.90" y2="365.58" stroke="#000" stroke-width="2.16" />
<rect x="498.60" y="358.90" width="6.60" height="6.60" fill="#000"/>
<circle cx="501.90" cy="373.03" r="3.05" fill="#fff" stroke="#000" stroke-width="1.3"/>
<path d="M498.44,374.44 L505.36,374.44 L501.90,380.38 Z" fill="#000"/>
<line x1="501.90" y1="391.97" x2="501.90" y2="404.14" stroke="#000" stroke-width="1.56" />
<line x1="498.90" y1="391.97" x2="504.90" y2="391.97" stroke="#000" stroke-width="2.16" />
<line x1="498.90" y1="404.14" x2="504.90" y2="404.14" stroke="#000" stroke-width="2.16" />
<path d="M498.60,395.58 L505.20,395.58 L501.90,401.19 Z" fill="#fff" stroke="#000" stroke-width="1.3" stroke-linejoin="miter"/>
<rect x="498.60" y="410.99" width="6.60" height="6.60" fill="#000"/>
<circle cx="579.10" cy="340.08" r="3.70" fill="#000"/>
<circle cx="579.10" cy="356.79" r="3.05" fill="#fff" stroke="#000" stroke-width="1.3"/>
<line x1="579.10" y1="359.63" x2="579.10" y2="367.75" stroke="#000" stroke-width="1.56" />
<line x1="576.10" y1="359.63" x2="582.10" y2="359.63" stroke="#000" stroke-width="2.16" />
<line x1="576.10" y1="367.75" x2="582.10" y2="367.75" stroke="#000" stroke-width="2.16" />
<path d="M575.63,361.05 L582.57,361.05 L579.10,366.99 Z" fill="#000"/>
<path d="M575.80,379.34 L582.40,379.34 L579.10,384.95 Z" fill="#fff" stroke="#000" stroke-width="1.3" stroke-linejoin="miter"/>
<circle cx="579.10" cy="399.27" r="3.70" fill="#000"/>
<circle cx="79.9" cy="554.9" r="5.6" fill="#000"/>
<text transform="translate(105.97,559.40) scale(0.926,1)" style="font-family:'Liberation Sans';font-weight:bold;font-size:15.88px;letter-spacing:0.60px" fill="#000" stroke="#000" stroke-width="0.5" >I = 0</text>
<path d="M75.2,573.5649999999999 L85.39999999999999,573.5649999999999 L80.3,582.235 Z" fill="#000"/>
<text transform="translate(103.97,582.20) scale(0.926,1)" style="font-family:'Liberation Sans';font-weight:bold;font-size:15.88px;letter-spacing:0.78px" fill="#000" stroke="#000" stroke-width="0.5" >I = 125</text>
<rect x="74.7" y="592.336" width="10.6" height="9.328" fill="#000"/>
<text transform="translate(103.67,604.90) scale(0.926,1)" style="font-family:'Liberation Sans';font-weight:bold;font-size:15.88px;letter-spacing:0.61px" fill="#000" stroke="#000" stroke-width="0.5" >I = 500</text>
<circle cx="183.2" cy="558.2" r="5.6000000000000005" fill="#fff" stroke="#333" stroke-width="1.1"/>
<text transform="translate(206.97,562.90) scale(0.926,1)" style="font-family:'Liberation Sans';font-weight:bold;font-size:15.88px;letter-spacing:0.85px" fill="#000" stroke="#000" stroke-width="0.5" >I =60</text>
<path d="M178.4,571.94 L188.6,571.94 L183.5,581.345 Z" fill="#fff" stroke="#333" stroke-width="1.1"/>
<text transform="translate(208.47,584.00) scale(0.926,1)" style="font-family:'Liberation Sans';font-weight:bold;font-size:15.88px;letter-spacing:0.84px" fill="#000" stroke="#000" stroke-width="0.5" >I = 250</text>
<circle cx="415.1" cy="557.6" r="5.8" fill="#000"/>
<text transform="translate(438.87,563.00) scale(0.926,1)" style="font-family:'Liberation Sans';font-weight:bold;font-size:16.20px;letter-spacing:0.64px" fill="#000" stroke="#000" stroke-width="0.5" >I = 0</text>
<path d="M409.59999999999997,575.995 L420.2,575.995 L414.9,585.005 Z" fill="#000"/>
<text transform="translate(438.87,585.50) scale(0.926,1)" style="font-family:'Liberation Sans';font-weight:bold;font-size:16.20px;letter-spacing:0.70px" fill="#000" stroke="#000" stroke-width="0.5" >I = 60</text>
<rect x="409.5" y="595.424" width="10.4" height="9.152000000000001" fill="#000"/>
<text transform="translate(438.87,605.90) scale(0.926,1)" style="font-family:'Liberation Sans';font-weight:bold;font-size:16.20px;letter-spacing:0.65px" fill="#000" stroke="#000" stroke-width="0.5" >I = 250</text>
<circle cx="518.0" cy="561.2" r="5.300000000000001" fill="#fff" stroke="#333" stroke-width="1.1"/>
<text transform="translate(532.77,564.20) scale(0.926,1)" style="font-family:'Liberation Sans';font-weight:bold;font-size:16.20px;letter-spacing:0.42px" fill="#000" stroke="#000" stroke-width="0.5" >I = 30</text>
<path d="M512.9,574.24 L523.1,574.24 L518.0,583.645 Z" fill="#fff" stroke="#333" stroke-width="1.1"/>
<text transform="translate(533.97,585.30) scale(0.926,1)" style="font-family:'Liberation Sans';font-weight:bold;font-size:16.20px;letter-spacing:0.61px" fill="#000" stroke="#000" stroke-width="0.5" >I = 125</text>
<line x1="189.20" y1="43.00" x2="201.58" y2="50.15" stroke="#000" stroke-width="1.6" />
<line x1="201.58" y1="50.15" x2="201.58" y2="64.45" stroke="#000" stroke-width="1.6" />
<line x1="201.58" y1="64.45" x2="194.73" y2="68.41" stroke="#000" stroke-width="1.6" />
<line x1="183.67" y1="68.41" x2="176.82" y2="64.45" stroke="#000" stroke-width="1.6" />
<line x1="176.82" y1="64.45" x2="176.82" y2="50.15" stroke="#000" stroke-width="1.6" />
<line x1="176.82" y1="50.15" x2="189.20" y2="43.00" stroke="#000" stroke-width="1.6" />
<line x1="180.69" y1="51.72" x2="188.62" y2="47.14" stroke="#000" stroke-width="1.6" />
<line x1="198.28" y1="52.72" x2="198.28" y2="61.88" stroke="#000" stroke-width="1.6" />
<line x1="180.32" y1="62.66" x2="186.76" y2="66.38" stroke="#000" stroke-width="1.6" />
<text x="185.77" y="75.54" style="font-family:'Liberation Sans';font-weight:normal;font-size:10.30px;letter-spacing:0.00px" fill="#000" stroke="#000" stroke-width="0.45" >N</text>
<line x1="201.58" y1="64.45" x2="209.78" y2="69.36" stroke="#000" stroke-width="1.6" />
<line x1="218.57" y1="69.28" x2="226.52" y2="64.35" stroke="#000" stroke-width="1.6" />
<text x="210.20" y="75.74" style="font-family:'Liberation Sans';font-weight:normal;font-size:10.30px;letter-spacing:0.00px" fill="#000" stroke="#000" stroke-width="0.45" >O</text>
<line x1="238.90" y1="42.90" x2="251.28" y2="50.05" stroke="#000" stroke-width="1.6" />
<line x1="251.28" y1="50.05" x2="251.28" y2="64.35" stroke="#000" stroke-width="1.6" />
<line x1="251.28" y1="64.35" x2="238.90" y2="71.50" stroke="#000" stroke-width="1.6" />
<line x1="238.90" y1="71.50" x2="226.52" y2="64.35" stroke="#000" stroke-width="1.6" />
<line x1="226.52" y1="64.35" x2="226.52" y2="50.05" stroke="#000" stroke-width="1.6" />
<line x1="226.52" y1="50.05" x2="238.90" y2="42.90" stroke="#000" stroke-width="1.6" />
<line x1="239.48" y1="47.04" x2="247.41" y2="51.62" stroke="#000" stroke-width="1.6" />
<line x1="247.41" y1="62.78" x2="239.48" y2="67.36" stroke="#000" stroke-width="1.6" />
<line x1="229.82" y1="61.78" x2="229.82" y2="52.62" stroke="#000" stroke-width="1.6" />
<line x1="251.28" y1="50.05" x2="263.60" y2="43.00" stroke="#000" stroke-width="1.6" />
<line x1="263.60" y1="43.00" x2="263.60" y2="33.60" stroke="#000" stroke-width="1.6" />
<line x1="267.10" y1="41.00" x2="267.10" y2="34.40" stroke="#000" stroke-width="1.6" />
<text x="260.18" y="33.35" style="font-family:'Liberation Sans';font-weight:normal;font-size:10.60px;letter-spacing:0.00px" fill="#000" stroke="#000" stroke-width="0.45" >O</text>
<line x1="263.60" y1="43.00" x2="272.06" y2="47.76" stroke="#000" stroke-width="1.6" />
<text x="271.50" y="54.60" style="font-family:'Liberation Sans';font-weight:normal;font-size:11.00px;letter-spacing:0.70px" fill="#000" stroke="#000" stroke-width="0.45" >OH</text>
<line x1="552.80" y1="53.20" x2="565.10" y2="60.30" stroke="#000" stroke-width="1.6" />
<line x1="565.10" y1="60.30" x2="565.10" y2="74.50" stroke="#000" stroke-width="1.6" />
<line x1="565.10" y1="74.50" x2="559.35" y2="77.82" stroke="#000" stroke-width="1.6" />
<line x1="546.25" y1="77.82" x2="540.50" y2="74.50" stroke="#000" stroke-width="1.6" />
<line x1="540.50" y1="74.50" x2="540.50" y2="60.30" stroke="#000" stroke-width="1.6" />
<line x1="540.50" y1="60.30" x2="552.80" y2="53.20" stroke="#000" stroke-width="1.6" />
<line x1="544.37" y1="61.88" x2="552.24" y2="57.34" stroke="#000" stroke-width="1.6" />
<line x1="561.80" y1="62.86" x2="561.80" y2="71.94" stroke="#000" stroke-width="1.6" />
<line x1="544.00" y1="72.71" x2="549.96" y2="76.15" stroke="#000" stroke-width="1.6" />
<text x="548.62" y="86.20" style="font-family:'Liberation Sans';font-weight:normal;font-size:12.20px;letter-spacing:0.00px" fill="#000" stroke="#000" stroke-width="0.45" >N</text>
<line x1="565.10" y1="74.50" x2="571.89" y2="78.63" stroke="#000" stroke-width="1.6" />
<line x1="582.30" y1="78.61" x2="589.00" y2="74.50" stroke="#000" stroke-width="1.6" />
<text x="572.35" y="86.20" style="font-family:'Liberation Sans';font-weight:normal;font-size:12.20px;letter-spacing:0.00px" fill="#000" stroke="#000" stroke-width="0.45" >O</text>
<line x1="601.30" y1="53.20" x2="613.60" y2="60.30" stroke="#000" stroke-width="1.6" />
<line x1="613.60" y1="60.30" x2="613.60" y2="74.50" stroke="#000" stroke-width="1.6" />
<line x1="613.60" y1="74.50" x2="601.30" y2="81.60" stroke="#000" stroke-width="1.6" />
<line x1="601.30" y1="81.60" x2="589.00" y2="74.50" stroke="#000" stroke-width="1.6" />
<line x1="589.00" y1="74.50" x2="589.00" y2="60.30" stroke="#000" stroke-width="1.6" />
<line x1="589.00" y1="60.30" x2="601.30" y2="53.20" stroke="#000" stroke-width="1.6" />
<line x1="601.86" y1="57.34" x2="609.73" y2="61.88" stroke="#000" stroke-width="1.6" />
<line x1="609.73" y1="72.92" x2="601.86" y2="77.46" stroke="#000" stroke-width="1.6" />
<line x1="592.30" y1="71.94" x2="592.30" y2="62.86" stroke="#000" stroke-width="1.6" />
<line x1="613.60" y1="60.30" x2="626.30" y2="53.50" stroke="#000" stroke-width="1.6" />
<line x1="626.30" y1="53.50" x2="626.30" y2="45.00" stroke="#000" stroke-width="1.6" />
<line x1="630.30" y1="50.60" x2="630.30" y2="45.60" stroke="#000" stroke-width="1.6" />
<text x="622.60" y="44.27" style="font-family:'Liberation Sans';font-weight:normal;font-size:13.00px;letter-spacing:0.00px" fill="#000" stroke="#000" stroke-width="0.45" >O</text>
<line x1="626.30" y1="53.50" x2="634.20" y2="58.00" stroke="#000" stroke-width="1.6" />
<text x="634.10" y="65.30" style="font-family:'Liberation Sans';font-weight:normal;font-size:12.40px;letter-spacing:1.00px" fill="#000" stroke="#000" stroke-width="0.45" >OH</text>
<line x1="533.30" y1="55.80" x2="540.50" y2="60.30" stroke="#000" stroke-width="1.6" />
<text x="507.50" y="58.40" style="font-family:'Liberation Sans';font-weight:normal;font-size:12.40px;letter-spacing:0.00px" fill="#000" stroke="#000" stroke-width="0.45" >H</text>
<text x="515.65" y="61.60" style="font-family:'Liberation Sans';font-weight:normal;font-size:8.50px;letter-spacing:0.00px" fill="#000" stroke="#000" stroke-width="0.45" >3</text>
<text x="523.00" y="58.40" style="font-family:'Liberation Sans';font-weight:normal;font-size:12.40px;letter-spacing:0.00px" fill="#000" stroke="#000" stroke-width="0.45" >C</text>
</svg></body></html>
